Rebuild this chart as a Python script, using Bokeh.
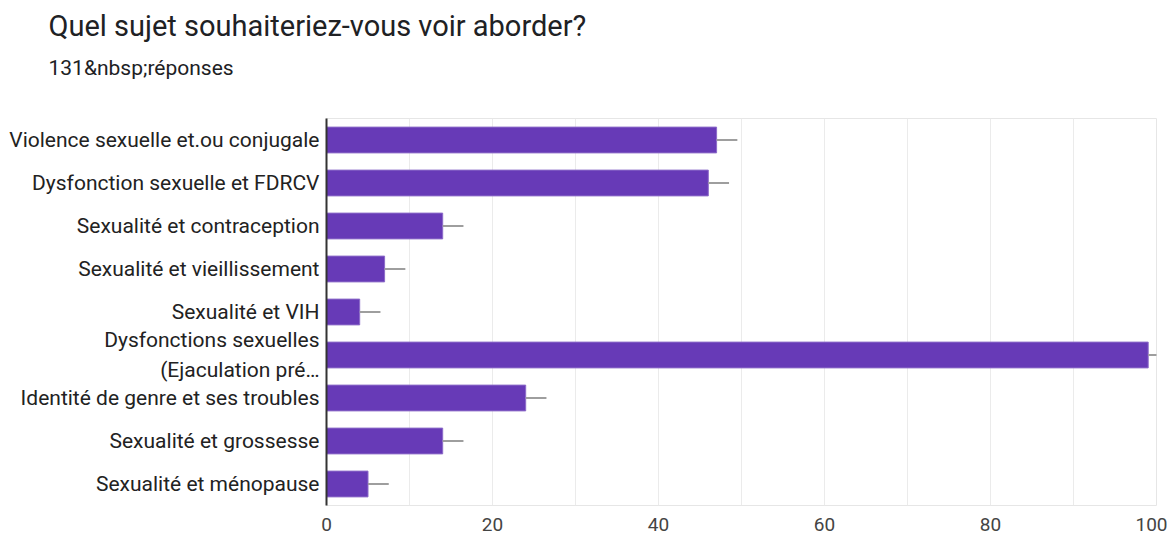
from bokeh.plotting import figure
from bokeh.models import FactorRange, Title, FixedTicker, ColumnDataSource
from bokeh.embed import file_html
from bokeh.resources import INLINE

title_text = "Quel sujet souhaiteriez-vous voir aborder?"
subtitle_text = "131&nbsp;réponses"
categories = [
    "Violence sexuelle et.ou conjugale",
    "Dysfonction sexuelle et FDRCV",
    "Sexualité et contraception",
    "Sexualité et vieillissement",
    "Sexualité et VIH",
    "Dysfonctions sexuelles\n(Ejaculation pré…",
    "Identité de genre et ses troubles",
    "Sexualité et grossesse",
    "Sexualité et ménopause",
]
values = [47, 46, 14, 7, 4, 99, 24, 14, 5]
whisker = [2.5, 2.5, 2.5, 2.5, 2.5, 1.2, 2.5, 2.5, 2.5]
x_ticks = [0, 20, 40, 60, 80, 100]

src = ColumnDataSource(dict(
    cat=categories,
    val=values,
    wend=[v + w for v, w in zip(values, whisker)],
))

p = figure(
    width=1167, height=535,
    y_range=FactorRange(*reversed(categories), range_padding=0.0),
    x_range=(0, 100),
    output_backend="svg", toolbar_location=None,
    min_border_left=326, min_border_right=11, min_border_bottom=30, min_border_top=0,
)

p.title.text = title_text
p.title.text_font = "Roboto"
p.title.text_font_size = "29px"
p.title.text_font_style = "normal"
p.title.text_color = "#202124"
p.title.align = "left"
p.title.offset = -278
p.title.standoff = 13

# spacer between subtitle and plot frame (closest to the frame)
spacer = Title(text=" ", text_font="Roboto", text_font_size="10px",
               align="left", standoff=21)
p.add_layout(spacer, "above")

sub = Title(text=subtitle_text, text_font="Roboto", text_font_size="21px",
            text_font_style="normal", text_color="#202124", align="left",
            offset=-278, standoff=9)
p.add_layout(sub, "above")

p.hbar(y="cat", right="val", left=0, height=0.6, source=src,
       fill_color="#673ab7", line_color="#8c6bc8", line_width=1)
p.segment(x0="val", x1="wend", y0="cat", y1="cat", source=src,
          line_color="#9e9e9e", line_width=2)

p.outline_line_color = "#e6e6e6"
p.outline_line_width = 1

p.xaxis.ticker = FixedTicker(ticks=x_ticks, minor_ticks=[10, 30, 50, 70, 90])
p.xaxis.axis_line_color = None
p.xaxis.major_tick_line_color = None
p.xaxis.minor_tick_line_color = None
p.xaxis.major_label_text_font = "Roboto"
p.xaxis.major_label_text_font_size = "19px"
p.xaxis.major_label_text_color = "#444444"
p.xaxis.major_label_standoff = 6

p.xgrid.grid_line_color = "#ebebeb"
p.xgrid.minor_grid_line_color = "#ebebeb"
p.ygrid.grid_line_color = None

p.yaxis.axis_line_color = "#333333"
p.yaxis.axis_line_width = 2
p.yaxis.major_tick_line_color = None
p.yaxis.minor_tick_line_color = None
p.yaxis.major_label_text_font = "Roboto"
p.yaxis.major_label_text_font_size = "21px"
p.yaxis.major_label_text_color = "#222222"
p.yaxis.major_label_standoff = 1
p.yaxis.major_label_text_line_height = 1.25

p.background_fill_color = "white"
p.border_fill_color = "white"

open("out.html", "w").write(file_html(p, INLINE))
